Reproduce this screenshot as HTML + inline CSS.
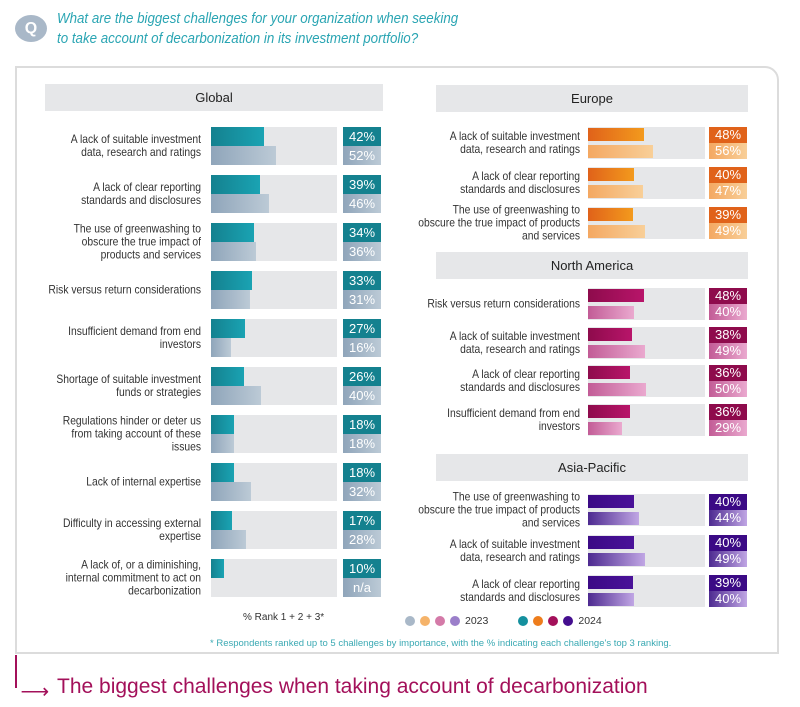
<!DOCTYPE html>
<html><head><meta charset="utf-8"><style>
body{margin:0;width:800px;height:707px;background:#fff;font-family:"Liberation Sans",sans-serif;position:relative;overflow:hidden}
.abs{position:absolute}
.q{left:15px;top:15px;width:32px;height:27px;border-radius:50%;background:#a9b8c8;color:#fff;font-weight:bold;font-size:16px;text-align:center;line-height:27px}
.qt{left:57px;top:9px;color:#2aa5b3;font-style:italic;font-size:14.5px;line-height:20px;transform:scaleX(0.92);transform-origin:left}
.box{left:15px;top:66px;width:764px;height:588px;border:2px solid #dcdcdc;border-radius:0 14px 0 0;box-sizing:border-box}
.hdr{background:#e6e7e9;font-size:13px;text-align:center;color:#222}
.lbl{font-size:12px;color:#333;text-align:right;line-height:13px;transform-origin:right}
.bg{background:#e6e7e9}
.val{color:#fff;font-size:13px;text-align:center}
</style></head><body>
<div class="abs q">Q</div>
<div class="abs qt">What are the biggest challenges for your organization when seeking<br>to take account of decarbonization in its investment portfolio?</div>
<div class="abs box"></div>
<div id="root"></div>
<div class="abs" style="left:243px;top:612px;font-size:10px;color:#333">% Rank 1 + 2 + 3*</div>
<div class="abs" style="left:405px;top:615px;font-size:10.5px;color:#333;display:flex;align-items:center;gap:5px">
<span style="width:10px;height:10px;border-radius:50%;background:#a9b8c8"></span>
<span style="width:10px;height:10px;border-radius:50%;background:#f5b36a"></span>
<span style="width:10px;height:10px;border-radius:50%;background:#d47aa8"></span>
<span style="width:10px;height:10px;border-radius:50%;background:#9b7fca"></span>
<span>2023</span>
<span style="width:20px"></span>
<span style="width:10px;height:10px;border-radius:50%;background:#14909e"></span>
<span style="width:10px;height:10px;border-radius:50%;background:#ee7d1c"></span>
<span style="width:10px;height:10px;border-radius:50%;background:#a3105a"></span>
<span style="width:10px;height:10px;border-radius:50%;background:#440e8f"></span>
<span>2024</span></div>
<div class="abs" style="left:210px;top:638px;font-size:9.5px;color:#3aa9b3">* Respondents ranked up to 5 challenges by importance, with the % indicating each challenge's top 3 ranking.</div>
<div class="abs" style="left:15px;top:655px;width:2px;height:33px;background:#a3105a"></div>
<div class="abs" style="left:15px;top:679px;color:#a3105a;font-size:20px">&nbsp;⟶</div>
<div class="abs" style="left:57px;top:675px;color:#a3105a;font-size:21px">The biggest challenges when taking account of decarbonization</div>
<script>
const globalLabels=["A lack of suitable investment<br>data, research and ratings","A lack of clear reporting<br>standards and disclosures","The use of greenwashing to<br>obscure the true impact of<br>products and services","Risk versus return considerations","Insufficient demand from end<br>investors","Shortage of suitable investment<br>funds or strategies","Regulations hinder or deter us<br>from taking account of these<br>issues","Lack of internal expertise","Difficulty in accessing external<br>expertise","A lack of, or a diminishing,<br>internal commitment to act on<br>decarbonization"];
const global2024=[42,39,34,33,27,26,18,18,17,10];
const global2023=[52,46,36,31,16,40,18,32,28,null];
const europeLabels=["A lack of suitable investment<br>data, research and ratings","A lack of clear reporting<br>standards and disclosures","The use of greenwashing to<br>obscure the true impact of products<br>and services"];
const europe2024=[48,40,39];
const europe2023=[56,47,49];
const naLabels=["Risk versus return considerations","A lack of suitable investment<br>data, research and ratings","A lack of clear reporting<br>standards and disclosures","Insufficient demand from end<br>investors"];
const na2024=[48,38,36,36];
const na2023=[40,49,50,29];
const apLabels=["The use of greenwashing to<br>obscure the true impact of products<br>and services","A lack of suitable investment<br>data, research and ratings","A lack of clear reporting<br>standards and disclosures"];
const ap2024=[40,40,39];
const ap2023=[44,49,40];

const root=document.getElementById('root');
function mk(cls,css,html){const d=document.createElement('div');d.className='abs '+(cls||'');d.style.cssText=css;if(html!=null)d.innerHTML=html;root.appendChild(d);return d;}
function panel(name,title,hx,hy,hw,labels,v24,v23,o){
  const h=mk('hdr',`left:${hx}px;top:${hy}px;width:${hw}px;height:27px;line-height:27px`,title);
  
  
  labels.forEach((l,i)=>{
    const yy=o.y0+i*o.pitch;
    const lb=mk('lbl',`left:${o.lx-260}px;width:260px;top:${yy+o.ih/2}px;transform:translateY(-50%) scaleX(0.86)`,l);
    
    
    const bg=mk('bg',`left:${o.bx}px;top:${yy}px;width:${o.bw}px;height:${o.ih}px`);
    
    
    const bh=o.bh;
    const b1=mk('',`left:${o.bx}px;top:${yy+o.off1}px;width:${v24[i]*o.s}px;height:${bh}px;background:linear-gradient(90deg,${o.c24a},${o.c24b})`);
    
    
    if(v23[i]!=null){
      const b2=mk('',`left:${o.bx}px;top:${yy+o.off2}px;width:${v23[i]*o.s}px;height:${bh}px;background:linear-gradient(90deg,${o.c23a},${o.c23b})`);
      
      
    }
    const hh=o.ih/2;
    const t1=mk('val',`left:${o.vx}px;top:${yy}px;width:38px;height:${hh}px;line-height:${hh}px;background:${o.c24a}`,v24[i]+'%');
    
    
    const t2=mk('val',`left:${o.vx}px;top:${yy+hh}px;width:38px;height:${hh}px;line-height:${hh}px;background:linear-gradient(90deg,${o.c23a},${o.c23b})`,v23[i]==null?'n/a':v23[i]+'%');
    
    
  });
}
panel('global','Global',45,84,338,globalLabels,global2024,global2023,{y0:127,pitch:48,ih:38,bh:19,off1:0,off2:19,lx:201,bx:211,bw:126,vx:343,s:1.25,c24a:'#14818f',c24b:'#1aa3b3',c23a:'#8fa5ba',c23b:'#bccad6'});
panel('europe','Europe',436,85,312,europeLabels,europe2024,europe2023,{y0:127,pitch:40,ih:32,bh:13,off1:1,off2:18,lx:580,bx:588,bw:117,vx:709,s:1.16,c24a:'#e0621a',c24b:'#f39a1d',c23a:'#f4a862',c23b:'#f8cf98'});
panel('north-america','North America',436,252,312,naLabels,na2024,na2023,{y0:288,pitch:38.7,ih:32,bh:13,off1:1,off2:18,lx:580,bx:588,bw:117,vx:709,s:1.16,c24a:'#8e0b4c',c24b:'#b8156a',c23a:'#c25c96',c23b:'#eaa9cf'});
panel('asia-pacific','Asia-Pacific',436,454,312,apLabels,ap2024,ap2023,{y0:494,pitch:40.5,ih:32,bh:13,off1:1,off2:18,lx:580,bx:588,bw:117,vx:709,s:1.16,c24a:'#3b0a85',c24b:'#4a1299',c23a:'#4d2a90',c23b:'#c0a6e4'});
</script>
</body></html>
